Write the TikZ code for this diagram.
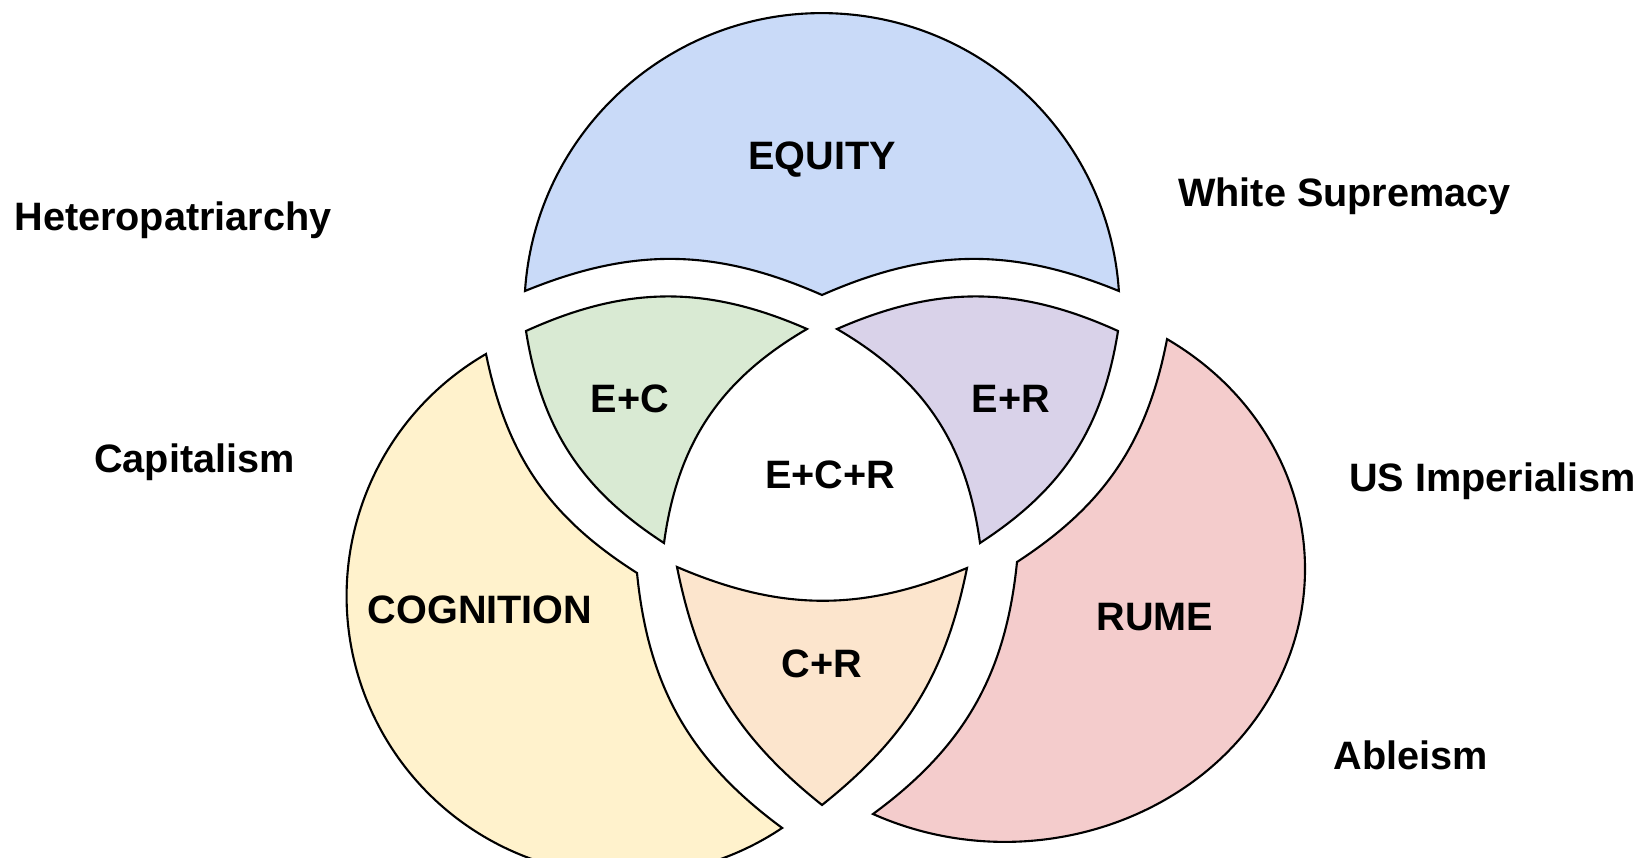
\documentclass[tikz,border=0pt]{standalone}
\usepackage{fontspec}
\setmainfont{Liberation Sans}
\definecolor{eqblue}{HTML}{C9DAF8}
\definecolor{ecgreen}{HTML}{D9EAD3}
\definecolor{erpurple}{HTML}{D9D2E9}
\definecolor{cogyellow}{HTML}{FFF2CC}
\definecolor{rumepink}{HTML}{F4CCCC}
\definecolor{crorange}{HTML}{FCE5CD}

\begin{document}
\begin{tikzpicture}[x=0.01cm, y=0.01cm,
		piece/.style={draw=black, line width=0.6pt, line join=miter},
		lbl/.style={font=\fontsize{11.27}{13.5}\selectfont\bfseries, anchor=base, inner sep=0pt}]
		\useasboundingbox (0,0) rectangle (1640,858);
		\draw[piece, fill=eqblue] (525,567) arc[start angle=176.2, end angle=3.8, radius=297.6] to[bend right=23] (822,563) to[bend right=23] cycle;
		\draw[piece, fill=ecgreen] (526,527) to[bend left=24] (807,529) to[bend right=26] (664,315) to[bend left=24] cycle;
		\draw[piece, fill=erpurple] (1118,527) to[bend right=24] (837,529) to[bend left=26] (980,315) to[bend right=24] cycle;
		\draw[piece, fill=cogyellow] (486,504) arc[start angle=120.1, end angle=303.9, radius=279.6] to[bend left=24] (637,285) to[bend left=23] cycle;
		\draw[piece, fill=rumepink] (873,44) arc[start angle=243.9, end angle=417.3, x radius=300, y radius=273] to[bend left=23] (1017,296) to[bend left=24] cycle;
		\draw[piece, fill=crorange] (677,291) to[bend right=23] (967,290) to[bend left=20] (822,53) to[bend left=20] cycle;
		\node[lbl] (equity) at (822,688) {EQUITY};
		\node[lbl] (ec) at (630,445) {E+C};
		\node[lbl] (er) at (1011,445) {E+R};
		\node[lbl] (ecr) at (830,369) {E+C+R};
		\node[lbl] (cognition) at (480,234) {COGNITION};
		\node[lbl] (rume) at (1155,227) {RUME};
		\node[lbl] (cr) at (822,180) {C+R};
		\node[lbl] (hetero) at (173,627) {Heteropatriarchy};
		\node[lbl] (capital) at (194.5,385) {Capitalism};
		\node[lbl] (whitesup) at (1344.5,651) {White Supremacy};
		\node[lbl] (usimp) at (1492.5,366) {US Imperialism};
		\node[lbl] (ableism) at (1411,88) {Ableism};
\end{tikzpicture}
\end{document}
